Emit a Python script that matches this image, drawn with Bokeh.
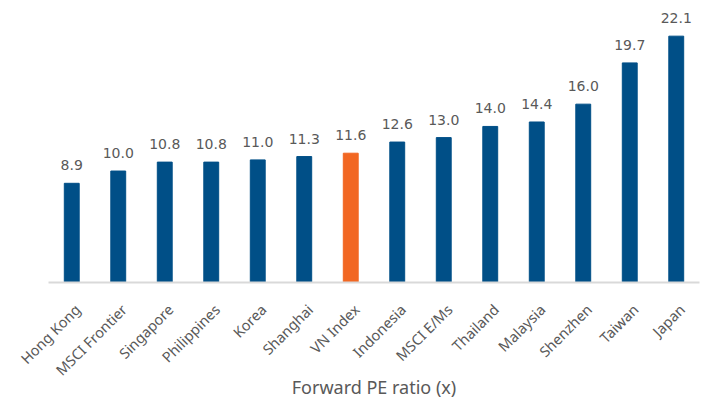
import math
from bokeh.plotting import figure
from bokeh.models import ColumnDataSource, LabelSet, LinearAxis, Range1d, FixedTicker
from bokeh.core.properties import value
from bokeh.embed import file_html
from bokeh.resources import INLINE

categories = ["Hong Kong", "MSCI Frontier", "Singapore", "Philippines", "Korea", "Shanghai",
              "VN Index", "Indonesia", "MSCI E/Ms", "Thailand", "Malaysia", "Shenzhen",
              "Taiwan", "Japan"]
values = [8.9, 10.0, 10.8, 10.8, 11.0, 11.3, 11.6, 12.6, 13.0, 14.0, 14.4, 16.0, 19.7, 22.1]
highlight = "VN Index"
x_title = "Forward PE ratio (x)"

BLUE = "#004f87"
ORANGE = "#f26722"
GREY = "#595959"
n = len(categories)
idx = list(range(n))
colors = [ORANGE if c == highlight else BLUE for c in categories]
labels = [f"{v:.1f}" for v in values]

src = ColumnDataSource(dict(x=idx, top=values, color=colors, label=labels))

p = figure(x_range=Range1d(-0.5, n - 0.5), y_range=(0, 25.3), width=704, height=402,
           output_backend="svg", toolbar_location=None,
           min_border_left=48, min_border_right=5, min_border_top=0, min_border_bottom=119)
p.vbar(x="x", top="top", width=0.32, color="color", source=src)

# value labels above bars
p.add_layout(LabelSet(x="x", y="top", text="label", source=src, text_align="center",
                      text_baseline="alphabetic", y_offset=13, text_font_size="14px",
                      text_color=GREY, text_font=value("DejaVu Sans")))

p.yaxis.visible = False
p.xaxis.visible = False
p.xgrid.grid_line_color = None
p.ygrid.grid_line_color = None
p.outline_line_color = None

# label axis on a slightly shifted copy of the x range, so the rotated
# label ends sit a little right of each bar (as in the reference)
shift = 0.12
p.extra_x_ranges = {"lab": Range1d(start=-0.5 - shift, end=n - 0.5 - shift)}
ax = LinearAxis(x_range_name="lab",
                ticker=FixedTicker(ticks=idx),
                major_label_overrides={i: c for i, c in zip(idx, categories)})
ax.axis_line_color = "#d9d9d9"
ax.axis_line_width = 2
ax.major_tick_line_color = None
ax.minor_tick_line_color = None
ax.major_label_orientation = math.pi / 4
ax.major_label_text_font = "Noto Sans"
ax.major_label_text_font_size = "14.5px"
ax.major_label_text_color = GREY
ax.major_label_standoff = 18
ax.axis_label = x_title
ax.axis_label_text_font = "Noto Sans"
ax.axis_label_text_font_style = "normal"
ax.axis_label_text_font_size = "18px"
ax.axis_label_text_color = GREY
ax.axis_label_standoff = -14
p.add_layout(ax, "below")

open("out.html", "w").write(file_html(p, INLINE))
